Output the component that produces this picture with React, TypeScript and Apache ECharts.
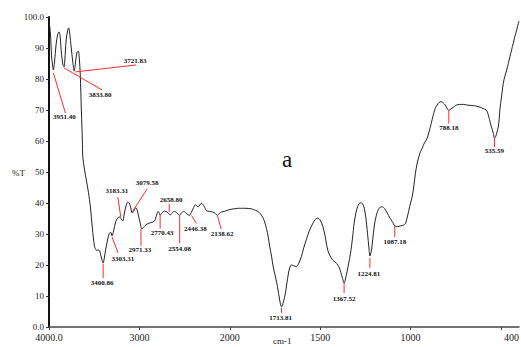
import React, { useEffect, useRef } from "react";
import * as echarts from "echarts";

// FTIR spectrum (wavenumber cm-1, %T)
const wavenumbers = [
  4000, 3990, 3983, 3972, 3961, 3951.4, 3939, 3922, 3905, 3888, 3877, 3866, 3855, 3845, 3833.8, 3825, 3810,
  3793, 3782, 3771, 3754, 3737, 3721.8, 3706, 3690, 3676, 3665, 3654, 3642, 3631, 3626, 3606, 3587, 3564,
  3542, 3520, 3497, 3475, 3447, 3425, 3400.9, 3388, 3374, 3352, 3335, 3318, 3303.3, 3285, 3263, 3240, 3218,
  3201, 3183.3, 3170, 3151, 3128, 3112, 3095, 3079.6, 3060, 3045, 3030, 3017, 2994, 2971.3, 2950, 2916, 2872,
  2832, 2810, 2793, 2780, 2770.4, 2750, 2720, 2690, 2675, 2658.8, 2640, 2611, 2585, 2570, 2554.1, 2535, 2510,
  2485, 2462, 2446.4, 2425, 2400, 2380, 2350, 2313, 2285, 2257, 2223, 2190, 2160, 2138.6, 2115, 2090, 2060,
  2030, 2000, 1978, 1952, 1918, 1879, 1857, 1842, 1830, 1815, 1805, 1797, 1787, 1779, 1769, 1760, 1747, 1736,
  1724, 1713.8, 1703, 1692, 1684, 1676, 1669, 1659, 1648, 1632, 1618, 1604, 1591, 1577, 1560, 1540, 1527,
  1513, 1500, 1485, 1473, 1458, 1445, 1431, 1418, 1403, 1393, 1385, 1376, 1367.5, 1356, 1345, 1332, 1321,
  1312, 1302, 1293, 1284, 1275, 1265, 1256, 1247, 1238, 1230, 1224.8, 1216, 1201, 1189, 1174, 1155, 1143,
  1128, 1115, 1101, 1087.2, 1071, 1055, 1038, 1027, 1018, 1009, 1000, 991, 981, 973, 963, 954, 945, 936, 923,
  908, 898, 890, 881, 872, 863, 853, 842, 831, 819, 808, 797, 788.2, 778, 765, 750, 730, 708, 688, 670, 652,
  632, 615, 599, 582, 575, 570, 563, 556, 549, 542, 535.6, 528, 522, 515, 510, 506, 497, 487, 478, 468, 459,
  450, 441, 432, 423, 413, 404, 400,
];
const transmittance = [
  99.0, 96.5, 94.2, 87.7, 84.5, 82.9, 85.5, 91, 94.2, 95.2, 93.9, 89.4, 86.5, 84.5, 83.9, 86.1, 92.6,
  95.8, 96.5, 94.8, 90, 85.5, 82.6, 85.5, 88.7, 89, 86.8, 81.3, 70, 60.3, 54.8, 50.6, 47.4, 43.5,
  38.7, 31.9, 26.1, 24.8, 24.8, 22.9, 20.6, 22.3, 24.8, 28.1, 30, 30.6, 29.4, 31, 33.9, 35.2, 35.5,
  34.8, 34.2, 36.1, 38.7, 40.3, 40, 38.4, 36.8, 37.4, 38.4, 38.2, 36.8, 33.9, 31.6, 32.3, 33.2, 33.7,
  34.2, 36.1, 37.3, 36.8, 36, 36.8, 37.4, 37, 36.5, 36.1, 36.8, 37.3, 36.8, 36.3, 36, 36.8, 37.3,
  36.8, 36.2, 36, 37, 38.5, 39.4, 38.8, 39.9, 39, 37.5, 37.3, 37.1, 36.6, 36.1, 36.6, 37.1, 37.3,
  37.6, 37.9, 38.1, 38.3, 38.3, 38.1, 37.6, 37.2, 36.5, 35.1, 33.5, 31.8, 29, 25.9, 22.9, 19.5, 16.1, 13,
  8.7, 6.5, 8.1, 11, 14.2, 17.1, 19, 20, 19.8, 19.5, 20.6, 22.7, 25.5, 28.1, 31, 33.5, 34.7,
  35.1, 34.5, 32.4, 29.4, 24.8, 22.9, 21.6, 21, 20, 19, 17.5, 15.6, 14.2, 16.5, 19.7, 23.8, 28.7,
  33.5, 36.8, 38.8, 39.8, 40.1, 39.7, 38.3, 35.2, 30.2, 25.5, 22.9, 24.8, 32.4, 36.1, 38.3, 38.8, 38.1,
  36.7, 35.2, 34, 32.6, 32.4, 32.6, 32.9, 33.5, 35.5, 37.7, 40, 42, 45.8, 49.6, 52.9, 54.9, 56.6, 57.6, 59.4,
  60.9, 62.9, 64.6, 66.8, 68.9, 70.5, 71.6, 72.4, 72.7, 72.3, 71.6, 70.5, 69.8, 70.3, 70.8, 71.5, 71.8, 71.8, 71.6, 71.5, 71.4,
  71.2, 70.9, 70.5, 70, 69.4, 68.4, 66.9, 65.2, 63.9, 62.5, 60.9, 61.6, 62.8, 64.5, 66.8, 70, 74.2, 78.6, 80.9, 82.9, 85,
  87.2, 89.4, 91.5, 93.7, 95.8, 97.9, 98.7,
];

// Labelled peaks
const peakWavenumbers = [
  3951.4, 3833.8, 3721.8, 3400.9, 3303.3, 3183.3, 3079.6, 2971.3, 2770.4, 2658.8, 2554.1, 2446.4, 2138.6,
  1713.8, 1367.5, 1224.8, 1087.2, 788.2, 535.6,
];
const peakTransmittance = [
  82.9, 83.9, 82.6, 20.6, 29.4, 34.2, 36.8, 31.6, 36, 36.1, 36, 36, 36.1,
  6.5, 14.2, 22.9, 32.6, 69.8, 60.9,
];
const peakLabels = [
  "3951.40", "3833.80", "3721.83", "3400.86", "3303.31", "3183.31", "3079.58", "2971.33", "2770.43",
  "2658.80", "2554.08", "2446.38", "2138.62", "1713.81", "1367.52", "1224.81", "1087.18", "788.18", "535.59",
];

// Axis ticks / labels
const xTickValues = [4000, 3000, 2000, 1500, 1000, 500];
const xLabelValues = [4000, 3000, 2000, 1500, 1000, 400];
const xLabelTexts = ["4000.0", "3000", "2000", "1500", "1000", "400"];

// Layout of peak annotations (pixel offsets from the peak: line start dx,dy, line end dx,dy, label dx,dy)
const peakOffsets = [
  [0, 3, 12, 43, 11, 47],
  [0, 1, 38, 23, 36, 28],
  [1, 1, 62, -6, 61, -10],
  [0, 1, 0, 15, -1, 20],
  [0, 1, 6, 17, 11, 23],
  [-2, -4, -5, -24, -6, -30],
  [0, -1, 15, -24, 15, -30],
  [-1, 0, -1, 17, -2, 21],
  [0, 0, 0, 13, 2, 18],
  [-1, -11, -1, -3, 1, -15],
  [0, 0, 0, 28, 0, 34],
  [2, 0, 7, 8, 6, 14],
  [0, 0, 4, 14, 5, 19],
  [0, 1, 0, 6, -1, 11],
  [0, 0, 0, 10, 0, 16],
  [0, 2, 0, 12, -1, 18],
  [0, 0, 0, 11, 0, 16],
  [0, 0, 0, 13, 0, 17],
  [0, 0, 0, 9, 0, 13],
];

// Scale change at 2000 cm-1 (upper region compressed by 2)
function toU(w: number): number {
  return w >= 2000 ? (4000 - w) / 2 : 1000 + (2000 - w);
}

export default function App() {
  const ref = useRef<HTMLDivElement>(null);
  useEffect(() => {
    document.body.style.margin = "0";
    if (!ref.current) return;
    const chart = echarts.init(ref.current, undefined, { renderer: "svg" });
    const lineData = wavenumbers.map((w, i) => [toU(w), transmittance[i]]);
    const peakData = peakWavenumbers.map((w, i) => [toU(w), peakTransmittance[i]]);
    const labelU = xLabelValues.map(toU);
    const serif = '"Liberation Serif", "DejaVu Serif", serif';
    chart.setOption({
      animation: false,
      backgroundColor: "#ffffff",
      grid: { left: 49, right: 2, top: 17, bottom: 20, containLabel: false, outerBoundsMode: "none" },
      xAxis: {
        type: "value",
        min: 0,
        max: 2600,
        axisLine: { show: true, onZero: false, lineStyle: { color: "#444", width: 1.5 } },
        axisTick: {
          show: true,
          customValues: xTickValues.map(toU),
          length: 3,
          lineStyle: { color: "#444" },
        },
        axisLabel: {
          customValues: labelU,
          formatter: (v: number) => {
            const idx = labelU.findIndex((u) => Math.abs(u - v) < 1e-6);
            return idx >= 0 ? xLabelTexts[idx] : "";
          },
          color: "#222",
          fontFamily: serif,
          fontSize: 10,
          margin: 5,
          alignMaxLabel: "right",
        },
        splitLine: { show: false },
      },
      yAxis: {
        type: "value",
        min: 0,
        max: 100,
        interval: 10,
        axisLine: { show: true, onZero: false, lineStyle: { color: "#111", width: 2 } },
        axisTick: { show: true, length: 3, lineStyle: { color: "#333" } },
        axisLabel: {
          formatter: (v: number) => (v === 0 ? "0.0" : v === 100 ? "100.0" : String(v)),
          color: "#222",
          fontFamily: serif,
          fontSize: 9,
          margin: 5,
        },
        splitLine: { show: false },
      },
      graphic: [
        { type: "text", left: 12, top: 168, style: { text: "%T", fill: "#222", fontFamily: serif, fontSize: 9 } },
        { type: "text", x: 287, y: 159, style: { text: "a", fill: "#111", fontFamily: serif, fontSize: 23, align: "center", verticalAlign: "middle" } },
        { type: "text", left: 273, top: 336, style: { text: "cm-1", fill: "#222", fontFamily: serif, fontSize: 9 } },
      ],
      series: [
        {
          type: "line",
          data: lineData,
          showSymbol: false,
          symbol: "none",
          smooth: 0.3,
          lineStyle: { color: "#222", width: 1 },
          z: 2,
        },
        {
          type: "custom",
          coordinateSystem: "cartesian2d",
          data: peakData,
          clip: false,
          z: 3,
          renderItem: (params: any, api: any) => {
            const i = params.dataIndex;
            const p = api.coord([api.value(0), api.value(1)]);
            const o = peakOffsets[i];
            return {
              type: "group",
              children: [
                {
                  type: "line",
                  shape: { x1: p[0] + o[0], y1: p[1] + o[1], x2: p[0] + o[2], y2: p[1] + o[3] },
                  style: { stroke: "#ff2a2a", lineWidth: 1 },
                },
                {
                  type: "text",
                  x: p[0] + o[4],
                  y: p[1] + o[5],
                  style: {
                    text: peakLabels[i],
                    fill: "#111",
                    fontFamily: serif,
                    fontSize: 7,
                    fontWeight: "bold",
                    align: "center",
                    verticalAlign: "middle",
                  },
                },
              ],
            };
          },
        },
      ],
    });
    return () => chart.dispose();
  }, []);
  return <div ref={ref} style={{ width: 521, height: 347 }} />;
}
